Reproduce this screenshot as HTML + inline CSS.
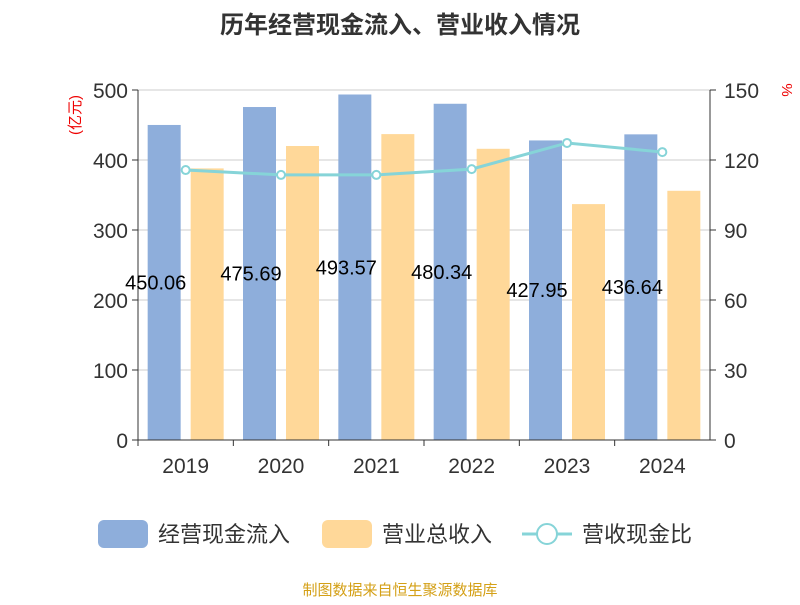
<!DOCTYPE html>
<html><head><meta charset="utf-8"><style>
body{margin:0;background:#fff;}
svg text{font-family:"Liberation Sans","Noto Sans CJK SC",sans-serif;}
</style></head><body>
<svg id="chart" width="800" height="600">
<text x="400" y="33" text-anchor="middle" font-size="24" font-weight="bold" fill="#333">历年经营现金流入、营业收入情况</text>
<g id="grid"></g><g id="bars"></g><g id="line"></g><g id="axes"></g><g id="labels"></g>
<text x="80" y="115" font-size="15" fill="#e00" transform="rotate(-90 80 115)" text-anchor="middle">(亿元)</text>
<text x="782" y="90" font-size="15" fill="#e00" transform="rotate(90 782 90)" text-anchor="middle">%</text>
<g>
<rect x="98" y="520" width="50" height="28" rx="6" fill="#8eaedb"/>
<text x="158" y="542" font-size="22" fill="#333">经营现金流入</text>
<rect x="322" y="520" width="50" height="28" rx="6" fill="#ffd899"/>
<text x="382" y="542" font-size="22" fill="#333">营业总收入</text>
<line x1="522" y1="534" x2="572" y2="534" stroke="#86d4d8" stroke-width="3"/>
<circle cx="547" cy="534" r="10" fill="#fff" stroke="#86d4d8" stroke-width="2"/>
<text x="582" y="542" font-size="22" fill="#333">营收现金比</text>
</g>
<text x="400" y="595" text-anchor="middle" font-size="15" fill="#d4a017">制图数据来自恒生聚源数据库</text>
</svg>
<script>
const categories=["2019","2020","2021","2022","2023","2024"];
const cashInflow=[450.06,475.69,493.57,480.34,427.95,436.64];
const revenue=[388,420,437,416,337,356];
const ratio=[115.7,113.6,113.6,116.1,127.3,123.4];
const leftTicks=[0,100,200,300,400,500];
const rightTicks=[0,30,60,90,120,150];
const NS="http://www.w3.org/2000/svg";
const X0=138,X1=710,Y0=440,Y1=90;
const band=(X1-X0)/categories.length;
const yL=v=>Y0-(v/500)*(Y0-Y1);
const yR=v=>Y0-(v/150)*(Y0-Y1);
const xC=i=>X0+band*(i+0.5);
function mk(p,t,a){const e=document.createElementNS(NS,t);for(const k in a)e.setAttribute(k,a[k]);document.getElementById(p).appendChild(e);return e;}
leftTicks.forEach((t,i)=>{
 const y=yL(t);
 const g=mk("grid","line",{x1:X0,x2:X1,y1:y,y2:y,stroke:"#ccc","stroke-width":1});
 
 
 const l=mk("axes","text",{x:X0-10,y:y+8,"text-anchor":"end","font-size":21,fill:"#333"});l.textContent=t;
 
 
 mk("axes","line",{x1:X0-6,x2:X0,y1:y,y2:y,stroke:"#333"});
 const r=mk("axes","text",{x:X1+14,y:yR(rightTicks[i])+8,"font-size":21,fill:"#333"});r.textContent=rightTicks[i];
 
 
 mk("axes","line",{x1:X1,x2:X1+6,y1:yR(rightTicks[i]),y2:yR(rightTicks[i]),stroke:"#333"});
});
mk("axes","line",{x1:X0,x2:X0,y1:Y1,y2:Y0,stroke:"#333"});
mk("axes","line",{x1:X1,x2:X1,y1:Y1,y2:Y0,stroke:"#333"});
mk("axes","line",{x1:X0,x2:X1,y1:Y0,y2:Y0,stroke:"#333"});
categories.forEach((c,i)=>{
 const cx=xC(i);
 mk("axes","line",{x1:X0+band*i,x2:X0+band*i,y1:Y0,y2:Y0+6,stroke:"#333"});
 const t=mk("axes","text",{x:cx,y:Y0+33,"text-anchor":"middle","font-size":21,fill:"#333"});t.textContent=c;
 
 
 const b=mk("bars","rect",{x:cx-38,y:yL(cashInflow[i]),width:33,height:Y0-yL(cashInflow[i]),fill:"#8eaedb"});
 
 
 const o=mk("bars","rect",{x:cx+5,y:yL(revenue[i]),width:33,height:Y0-yL(revenue[i]),fill:"#ffd899"});
 
 
 const lb=mk("labels","text",{x:cx-30,y:(yL(cashInflow[i])+Y0)/2+7,"text-anchor":"middle","font-size":20,fill:"#000"});lb.textContent=cashInflow[i].toFixed(2);
 
 
});
const pl=mk("line","polyline",{points:ratio.map((v,i)=>xC(i)+","+yR(v)).join(" "),fill:"none",stroke:"#86d4d8","stroke-width":3});


ratio.forEach((v,i)=>{
 const p=mk("line","circle",{cx:xC(i),cy:yR(v),r:4,fill:"#fff",stroke:"#86d4d8","stroke-width":2});
 
 
});
</script>
</body></html>
